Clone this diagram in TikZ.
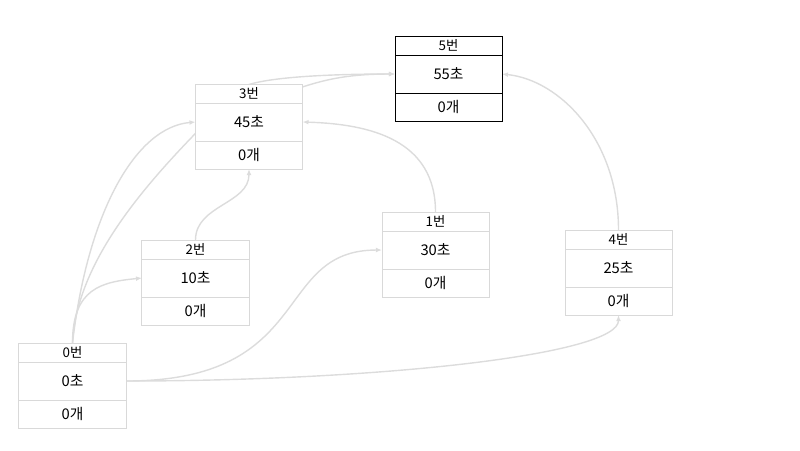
\documentclass[tikz,border=0pt]{standalone}
\usepackage{fontspec}
\setmainfont{Noto Sans CJK KR}
\usepackage{xcolor}
\usepackage{tikz}
\usetikzlibrary{arrows.meta,positioning,backgrounds}

\definecolor{boxline}{HTML}{D9D9D9}
\definecolor{edgeline}{HTML}{DCDCDC}

\begin{document}
\begin{tikzpicture}[
    x=0.025cm, y=0.025cm,
    part/.style={rectangle, draw=boxline, fill=white, line width=0.7pt, outer sep=0pt, inner sep=0pt, minimum width=2.675cm},
    head/.style={part, minimum height=0.475cm, font=\fontsize{9.5}{10}\selectfont},
    secs/.style={part, minimum height=0.95cm, font=\fontsize{10.5}{12}\selectfont},
    cnt/.style={part, minimum height=0.7cm, font=\fontsize{10.5}{12}\selectfont},
    done/.style={draw=black},
    arrow/.style={-{Latex[length=1.5mm,width=1.2mm]}, draw=edgeline, line width=1pt}
]
\useasboundingbox (0,0) rectangle (800,-450);

\node[head, done] (h5) at (448.5,-45.5) {5번};
\node[secs, done, below=0pt of h5] (t5) {55초};
\node[cnt, done, below=0pt of t5] (c5) {0개};

\node[head] (h3) at (249,-93.5) {3번};
\node[secs, below=0pt of h3] (t3) {45초};
\node[cnt, below=0pt of t3] (c3) {0개};

\node[head] (h1) at (435.5,-221.5) {1번};
\node[secs, below=0pt of h1] (t1) {30초};
\node[cnt, below=0pt of t1] (c1) {0개};

\node[head] (h4) at (618.5,-239.5) {4번};
\node[secs, below=0pt of h4] (t4) {25초};
\node[cnt, below=0pt of t4] (c4) {0개};

\node[head] (h2) at (195.5,-249.5) {2번};
\node[secs, below=0pt of h2] (t2) {10초};
\node[cnt, below=0pt of t2] (c2) {0개};

\node[head] (h0) at (72.5,-352.5) {0번};
\node[secs, below=0pt of h0] (t0) {0초};
\node[cnt, below=0pt of t0] (c0) {0개};

\coordinate (bend) at (238,-90);

\begin{scope}[on background layer]
\draw[arrow] (h0.north) .. controls +(15,130) and +(-60,-5) .. (t3.west);
\draw[arrow] (h0.north) .. controls +(5,100) and +(-58,-60) .. (bend)
    .. controls +(12,12) and +(-75,0) .. (t5.west);
\draw[arrow] (h0.north) .. controls +(0,55) and +(-40,-4) .. (t2.west);
\draw[arrow] (t0.east) .. controls +(190,0) and +(-110,0) .. (t1.west);
\draw[arrow] (t0.east) .. controls +(250,0) and +(0,-40) .. (c4.south);
\draw[arrow] (h2.north) .. controls +(0,35) and +(0,-35) .. (c3.south);
\draw[arrow] (h1.north) .. controls +(0,72) and +(68,-2) .. (t3.east);
\draw[arrow] (h3.7) .. controls +(25,8) and +(-45,0) .. (t5.west);
\draw[arrow] (h4.north) .. controls +(0,90) and +(58,-6) .. (t5.east);
\end{scope}
\end{tikzpicture}
\end{document}
